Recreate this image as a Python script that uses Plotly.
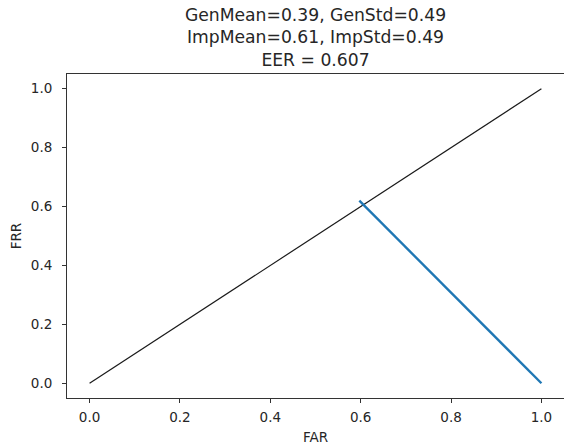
import plotly.graph_objects as go

diag_x = [0.0, 1.0]
diag_y = [0.0, 1.0]
far = [0.597, 1.0]
frr = [0.62, 0.0]
ticks = [0.0, 0.2, 0.4, 0.6, 0.8, 1.0]
tick_text = ["0.0", "0.2", "0.4", "0.6", "0.8", "1.0"]
title_lines = ["GenMean=0.39, GenStd=0.49", "ImpMean=0.61, ImpStd=0.49", "EER = 0.607"]

FONT = "DejaVu Sans"
fig = go.Figure()
fig.add_trace(go.Scatter(x=diag_x, y=diag_y, mode="lines",
                         line=dict(color="#1a1a1a", width=1.2), showlegend=False))
fig.add_trace(go.Scatter(x=far, y=frr, mode="lines",
                         line=dict(color="#1f77b4", width=2.4), showlegend=False))

axis_common = dict(
    range=[-0.05, 1.05], tickvals=ticks, ticktext=tick_text,
    showgrid=False, zeroline=False, showline=True, linecolor="#333333", linewidth=1,
    ticks="outside", ticklen=4, tickwidth=1, tickcolor="#333333",
    tickfont=dict(family=FONT, size=13.5, color="#262626"),
)
fig.update_layout(
    width=564, height=446,
    margin=dict(l=67, r=0, t=74, b=48),
    paper_bgcolor="white", plot_bgcolor="white",
    title=dict(text="<br>".join(title_lines), x=0.5, xref="paper", xanchor="center",
               y=1 - 21/446, yref="container", yanchor="top",
               font=dict(family=FONT, size=17.2, color="#262626")),
    xaxis=dict(**axis_common, mirror=True, ticklabelstandoff=3,
               title=dict(text="FAR", font=dict(family=FONT, size=13.5, color="#262626"), standoff=8)),
    yaxis=dict(**axis_common, mirror=False, ticklabelstandoff=7,
               title=dict(text="FRR", font=dict(family=FONT, size=13.5, color="#262626"), standoff=6)),
)
fig.write_html("out.html")
